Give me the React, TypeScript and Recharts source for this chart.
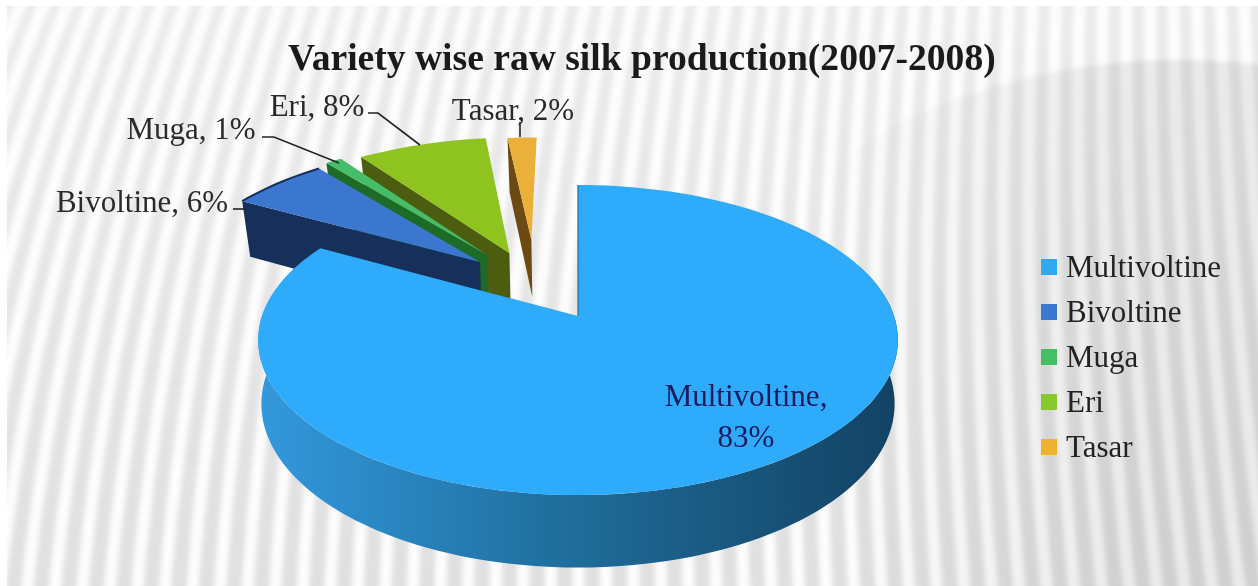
import React from "react";
import { PieChart, Pie, Legend } from "recharts";

const categories = ["Multivoltine", "Bivoltine", "Muga", "Eri", "Tasar"];
const shares = [83, 6, 1, 8, 2];
const titleText = "Variety wise raw silk production(2007-2008)";

const W = 1258;
const H = 586;
const FONT = "'Liberation Serif', serif";
const APEX_X = 578;
const APEX_Y = 316;
const RADIUS = 316;

type Look = {
  top: string; wall: string; pull: [number, number]; swatch: string; rim?: boolean; reach?: number;
  label: { x: number; y: number; line: number[][] };
};
const looks: Record<string, Look> = {
  Multivoltine: { top: "#2eabfb", wall: "url(#wallGrad)", pull: [0, 0], swatch: "#2ea9f4", label: { x: 746, y: 406, line: [] } },
  Bivoltine: { top: "#3b76cf", wall: "#16305a", pull: [-0.328, 0.378], swatch: "#3b78d1", rim: true, label: { x: 142, y: 212, line: [[233, 209], [246, 209]] } },
  Muga: { top: "#46bd68", wall: "#1d6b26", pull: [-0.307, 0.43], swatch: "#45bf65", label: { x: 191, y: 139, line: [[262, 137], [274, 137], [339, 163]] } },
  Eri: { top: "#8fc31f", wall: "#4c5d10", pull: [-0.232, 0.445], swatch: "#85c92c", label: { x: 317, y: 116, line: [[368, 113], [378, 113], [420, 145]] } },
  Tasar: { top: "#eab03a", wall: "#6d4a14", pull: [-0.16, 0.545], reach: 0.9, swatch: "#f0b030", label: { x: 513, y: 120, line: [[520, 122], [520, 137]] } },
};

// perspective projection of the two faces of the disc
const rad = (d: number) => (d * Math.PI) / 180;
const projTop = (u: number, v: number, cx: number, cy: number, r: number) => {
  const w = 1 + 0.155 * v;
  return [cx + (r * u) / w, cy - (151.3 * v) / w];
};
const projBottom = (u: number, v: number, cx: number, cy: number, r: number) => {
  const w = 1 + 0.17 * v;
  return [cx + ((r - 4) * u) / w, cy + 60 - (159 * v) / w];
};
const toPath = (pts: number[][]) =>
  pts.map((p, i) => `${i ? "L" : "M"}${p[0].toFixed(1)},${p[1].toFixed(1)}`).join("") + "Z";

function SliceShape(props: any) {
  const { cx, cy, outerRadius, startAngle, endAngle, name } = props;
  const look = looks[name ?? props.payload?.name];
  if (!look) return null;
  const a = 90 - Math.max(startAngle, endAngle);
  const b = 90 - Math.min(startAngle, endAngle);
  const [px, py] = look.pull;
  const reach = look.reach ?? 1;
  const at = (deg: number, rr = reach) => [px + rr * Math.sin(rad(deg)), py + rr * Math.cos(rad(deg))];
  const T = (deg: number, rr = reach) => { const q = at(deg, rr); return projTop(q[0], q[1], cx, cy, outerRadius); };
  const B = (deg: number, rr = reach) => { const q = at(deg, rr); return projBottom(q[0], q[1], cx, cy, outerRadius); };
  const sweep = (from: number, to: number, f: (d: number) => number[]) => {
    const n = Math.max(2, Math.ceil((to - from) / 2));
    return Array.from({ length: n + 1 }, (_, i) => f(from + ((to - from) * i) / n));
  };
  const arc = sweep(a, b, (d) => T(d));
  const face = [T(0, 0), ...arc];
  const wa = Math.max(a, 70);
  const wb = Math.min(b, 292);
  const big = b - a > 180;
  return (
    <g>
      {wb > wa && (
        <path d={toPath([...sweep(wa, wb, (d) => T(d)), ...sweep(wa, wb, (d) => B(d)).reverse()])} fill={look.wall} />
      )}
      {!big && <path d={toPath([T(a, 0), T(a), B(a), B(a, 0)])} fill={look.wall} />}
      <path d={toPath(face)} fill={look.top} />
      {look.rim && <path d={"M" + arc.map((p) => p.join(",")).join("L")} fill="none" stroke={look.wall} strokeWidth={2} />}
      {big && <line x1={cx} y1={cy} x2={T(a)[0]} y2={T(a)[1]} stroke="#1c6ea6" strokeWidth={1.2} />}
    </g>
  );
}

function SliceLabel(props: any) {
  const name = props.name ?? props.payload?.name;
  const value = props.value ?? props.payload?.value;
  const look = looks[name];
  if (!look) return null;
  const { x, y, line } = look.label;
  if (name === "Multivoltine") {
    return (
      <text textAnchor="middle" fontFamily={FONT} fontSize={31} fill="#1b1b5e">
        <tspan x={x} y={y}>{name},</tspan>
        <tspan x={x} y={y + 41}>{value}%</tspan>
      </text>
    );
  }
  return (
    <g>
      <text x={x} y={y} textAnchor="middle" fontFamily={FONT} fontSize={31} fill="#2a2a2a">{`${name}, ${value}%`}</text>
      <polyline points={line.map((p) => p.join(",")).join(" ")} fill="none" stroke="#222" strokeWidth={1.6} />
    </g>
  );
}

function LegendBox() {
  return (
    <div style={{ fontFamily: FONT, fontSize: 31, color: "#222" }}>
      {categories.map((c) => (
        <div key={c} style={{ display: "flex", alignItems: "center", height: 44.8, whiteSpace: "nowrap" }}>
          <span style={{ width: 16, height: 16, background: looks[c].swatch, marginRight: 9, flex: "none" }} />
          {c}
        </div>
      ))}
    </div>
  );
}

function Backdrop() {
  const stripes: string[] = [];
  for (let t = -260; t < W + 260; t += 23.5) {
    const A = 0.42 * (1 - t / 1150);
    const C = 0.00024 - (0.00014 * t) / 1150;
    const pts: string[] = [];
    for (let y = -40; y <= H + 40; y += 40) pts.push(`${(t - A * y + C * y * y).toFixed(1)},${y}`);
    stripes.push(pts.join(" "));
  }
  return (
    <svg width={W} height={H} style={{ position: "absolute", left: 0, top: 0 }}>
      <defs>
        <filter id="soft" x="-5%" y="-5%" width="110%" height="110%"><feGaussianBlur stdDeviation="2.6" /></filter>
        <filter id="soft2" x="-5%" y="-5%" width="110%" height="110%"><feGaussianBlur stdDeviation="2" /></filter>
        <linearGradient id="baseGrad" x1="0" y1="0" x2="0.1" y2="1">
          <stop offset="0" stopColor="#ececec" />
          <stop offset="1" stopColor="#e0e0e0" />
        </linearGradient>
        <linearGradient id="shadeGrad" x1="0" y1="0" x2="1" y2="0">
          <stop offset="0.15" stopColor="#000" stopOpacity="0" />
          <stop offset="0.45" stopColor="#000" stopOpacity="0.07" />
        </linearGradient>
        <clipPath id="sheet"><rect x={7} y={6} width={W - 7} height={H - 6} /></clipPath>
      </defs>
      <rect width={W} height={H} fill="#fff" />
      <g clipPath="url(#sheet)">
        <rect width={W} height={H} fill="url(#baseGrad)" />
        <g filter="url(#soft)">
          {stripes.map((s, i) => <polyline key={i} points={s} fill="none" stroke="#fdfdfd" strokeWidth={12} />)}
        </g>
        <ellipse cx={1180} cy={430} rx={500} ry={370} fill="url(#shadeGrad)" filter="url(#soft2)" />
      </g>
    </svg>
  );
}

const rows = categories.map((name, i) => ({ name, value: shares[i] }));
const drawOrder = [...rows].reverse();

export default function App() {
  return (
    <div style={{ position: "absolute", left: 0, top: 0, width: W, height: H, overflow: "hidden", filter: "blur(0.5px)" }}>
      <Backdrop />
      <div style={{ position: "absolute", left: 0, top: 0 }}>
        <svg width={0} height={0} style={{ position: "absolute" }}>
          <defs>
            <linearGradient id="wallGrad" gradientUnits="userSpaceOnUse" x1={262} y1={0} x2={900} y2={0}>
              <stop offset="0" stopColor="#3398dc" />
              <stop offset="0.2" stopColor="#2a86c2" />
              <stop offset="0.45" stopColor="#20709f" />
              <stop offset="0.7" stopColor="#1a5a82" />
              <stop offset="1" stopColor="#124263" />
            </linearGradient>
          </defs>
        </svg>
        <PieChart width={W} height={H} margin={{ top: 0, right: 0, bottom: 0, left: 0 }}>
          <Pie
            data={drawOrder}
            dataKey="value"
            nameKey="name"
            cx={APEX_X}
            cy={APEX_Y}
            innerRadius={0}
            outerRadius={RADIUS}
            startAngle={-270}
            endAngle={90}
            stroke="none"
            isAnimationActive={false}
            shape={SliceShape}
            label={SliceLabel}
            labelLine={false}
          />
          <Legend
            layout="vertical"
            align="right"
            verticalAlign="middle"
            content={LegendBox}
            wrapperStyle={{ position: "absolute", left: 1041, top: 245, width: 210 }}
          />
        </PieChart>
      </div>
      <div style={{ position: "absolute", left: 288, top: 36, fontFamily: FONT, fontWeight: 700, fontSize: 37.6, color: "#1a1a1a", whiteSpace: "nowrap" }}>
        {titleText}
      </div>
    </div>
  );
}
